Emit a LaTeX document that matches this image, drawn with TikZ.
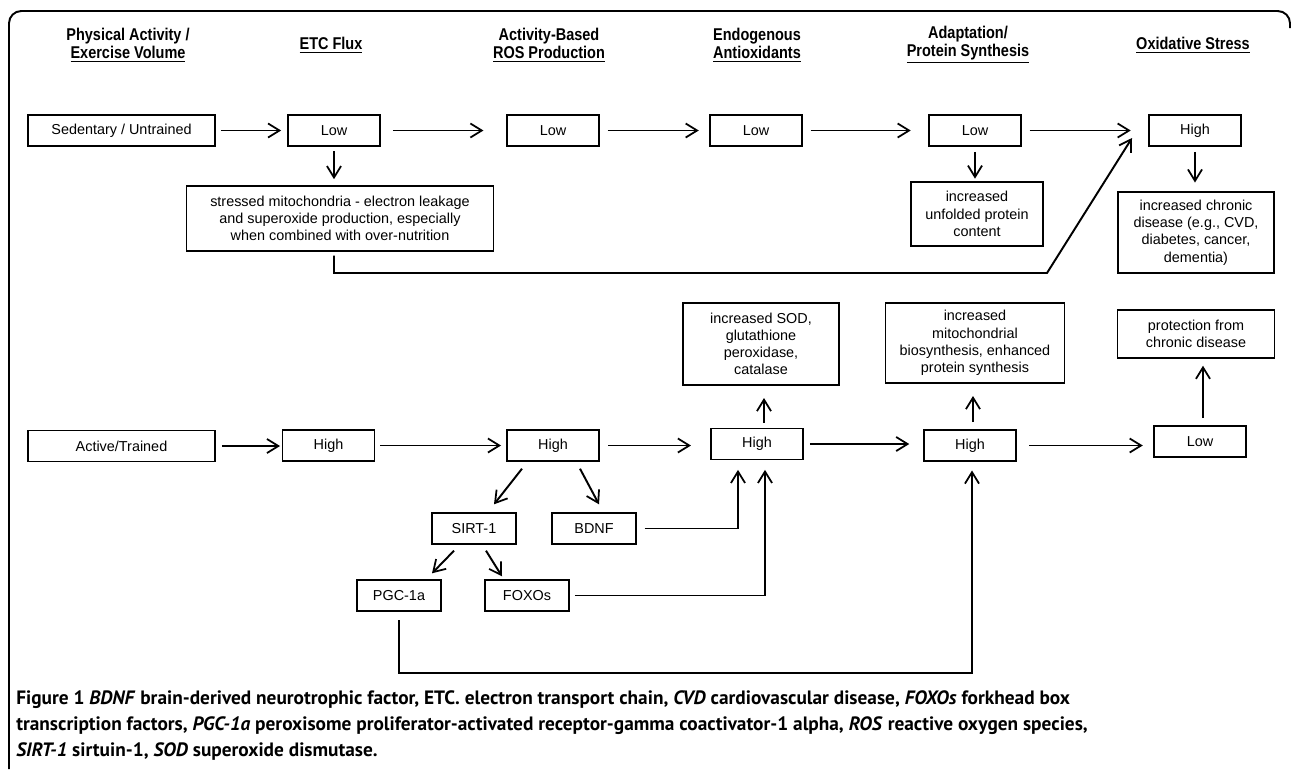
\documentclass[tikz,border=0pt]{standalone}
\usepackage{fontspec}
\setmainfont{Liberation Sans}
\newfontfamily\headfont[FakeStretch=0.85]{Liberation Sans}
\newfontfamily\capfont{PT Sans}
\usetikzlibrary{arrows.meta, positioning, calc}

\tikzset{
  box/.style={draw, line width=0.8pt, minimum height=0.62cm, minimum width=1.84cm,
    inner sep=1pt, align=center, font=\fontsize{8.2}{9.8}\selectfont},
  wide/.style={box, minimum width=3.74cm},
  head/.style={font=\headfont\bfseries\fontsize{9.7}{10.2}\selectfont, align=center},
  arr/.style={-{Straight Barb[length=6.5pt,width=8pt,line width=1pt]}, line width=1.1pt,
    shorten <=4.5pt, shorten >=6pt},
}

\begin{document}
\begin{tikzpicture}[x=0.02cm, y=-0.02cm]
\useasboundingbox (0,0) rectangle (1292,769);
\draw[line width=1.1pt, rounded corners=7pt] (9,769) -- (9,11) -- (1290,11) -- (1290,28);

% column heads
\node[head] (hPA) at (128,45) {Physical Activity /\\\underline{Exercise Volume}};
\node[head] (hETC) at (331,45) {\underline{ETC Flux}};
\node[head] (hROS) at (549,45) {Activity-Based\\\underline{ROS Production}};
\node[head] (hEA) at (757,45) {Endogenous\\\underline{Antioxidants}};
\node[head] (hAPS) at (968,45) {Adaptation/\\\underline{Protein Synthesis}};
\node[head] (hOS) at (1193,45) {\underline{Oxidative Stress}};

% untrained row
\node[wide] (sed) at (121.5,130.5) {Sedentary / Untrained};
\node[box] (low1) at (334,130.5) {Low};
\node[box] (low2) at (553,130.5) {Low};
\node[box] (low3) at (756,130.5) {Low};
\node[box] (low4) at (975,130.5) {Low};
\node[box] (highA) at (1195,130.5) {High};
\node[box, minimum width=6.14cm, minimum height=1.3cm] (stress) at (340,218.5)
  {stressed mitochondria - electron leakage\\and superoxide production, especially\\when combined with over-nutrition};
\node[box, minimum width=2.64cm, minimum height=1.28cm] (unfold) at (977,214)
  {increased\\unfolded protein\\content};
\node[box, minimum width=3.12cm, minimum height=1.62cm] (chronic) at (1196,232.5)
  {increased chronic\\disease (e.g., CVD,\\diabetes, cancer,\\dementia)};
\coordinate (kink) at (1047,273);
\coordinate (tipA) at (1132,138);

\draw[arr, shorten <=3pt, shorten >=3.5pt] (sed) -- (low1);
\draw[arr, shorten <=7pt, shorten >=13pt] (low1) -- (low2);
\draw[arr, shorten >=6pt] (low2) -- (low3);
\draw[arr, shorten >=10pt] (low3) -- (low4);
\draw[arr, shorten >=10pt] (low4) -- (highA);
\draw[arr, shorten <=2.5pt, shorten >=3.5pt] (low1.south) -- (low1.south |- stress.north);
\draw[arr, shorten <=3pt, shorten >=1.5pt] (low4.south) -- (low4.south |- unfold.north);
\draw[arr, shorten <=3pt, shorten >=5pt] (highA.south) -- (highA.south |- chronic.north);
\draw[arr, shorten <=0pt, shorten >=0pt] ($(stress.south -| low1.south)+(0,4)$) |- (kink) -- (tipA);

% trained row
\node[wide] (active) at (121.5,446) {Active/Trained};
\node[box] (high1) at (328.5,445.5) {High};
\node[box] (high2) at (553,445.5) {High};
\node[box] (high3) at (757,444) {High};
\node[box] (high4) at (970,445.5) {High};
\node[box] (lowB) at (1200,441.5) {Low};
\node[box, minimum width=3.12cm, minimum height=1.64cm] (sod) at (761,344)
  {increased SOD,\\glutathione\\peroxidase,\\catalase};
\node[box, minimum width=3.58cm, minimum height=1.6cm] (mito) at (975,343)
  {increased\\mitochondrial\\biosynthesis, enhanced\\protein synthesis};
\node[box, minimum width=3.14cm, minimum height=0.96cm] (prot) at (1196,334)
  {protection from\\chronic disease};
\node[box, minimum width=1.68cm] (sirt) at (474,528.5) {SIRT-1};
\node[box, minimum width=1.68cm] (bdnf) at (594,528.5) {BDNF};
\node[box, minimum width=1.68cm] (pgc) at (399,595.5) {PGC-1a};
\node[box, minimum width=1.68cm] (foxo) at (527,595.5) {FOXOs};
\coordinate (pgcbase) at (399,673);
\coordinate (up3) at (764,428);
\coordinate (up4) at (973,430);
\coordinate (upB) at (1203,426);

\draw[arr, shorten <=3.5pt, shorten >=1pt] (active) -- (active -| high1.west);
\draw[arr, shorten <=3pt, shorten >=3pt] (high1) -- (high1 -| high2.west);
\draw[arr, shorten <=5pt, shorten >=11pt] (high2.east) -- (high2.east -| high3.west);
\draw[arr, shorten <=3.5pt, shorten >=8pt] (high3.east) -- (high3.east -| high4.west);
\draw[arr, shorten <=7pt, shorten >=6pt] (high4.east) -- (high4.east -| lowB.west);
\draw[arr, shorten <=3pt, shorten >=7pt] (up3) -- (up3 |- sod.south);
\draw[arr, shorten <=4.5pt, shorten >=7pt] (up4) -- (up4 |- mito.south);
\draw[arr, shorten <=4.5pt, shorten >=4pt] (upB) -- (upB |- prot.south);

\draw[arr, shorten <=0pt, shorten >=0pt] ($(high2.south)+(-31,7)$) -- ($(sirt.north)+(20,-8)$);
\draw[arr, shorten <=0pt, shorten >=0pt] ($(high2.south)+(27,7)$) -- ($(bdnf.north)+(5,-8)$);
\draw[arr, shorten <=0pt, shorten >=0pt] ($(sirt.south)+(-20,6)$) -- ($(pgc.north)+(33,-6)$);
\draw[arr, shorten <=0pt, shorten >=0pt] ($(sirt.south)+(12,6)$) -- ($(foxo.north)+(-25,-3)$);

\draw[arr, shorten >=5.5pt] (bdnf.east) -| ($(high3.south)+(-19,0)$);
\draw[arr, shorten <=3pt, shorten >=5.5pt] (foxo.east) -| ($(high3.south)+(8,0)$);
\draw[arr, shorten <=5pt, shorten >=5pt] (pgc.south) -- (pgcbase) -| ($(high4.south)+(2,0)$);

% caption
\node[anchor=west, align=left, inner sep=0pt, font=\capfont\bfseries\fontsize{11}{14.8}\selectfont] (cap) at (16,726)
  {Figure 1 \textit{BDNF} brain-derived neurotrophic factor, ETC. electron transport chain, \textit{CVD} cardiovascular disease, \textit{FOXOs} forkhead box\\
   transcription factors, \textit{PGC-1a} peroxisome proliferator-activated receptor-gamma coactivator-1 alpha, \textit{ROS} reactive oxygen species,\\
   \textit{SIRT-1} sirtuin-1, \textit{SOD} superoxide dismutase.};
\end{tikzpicture}
\end{document}
